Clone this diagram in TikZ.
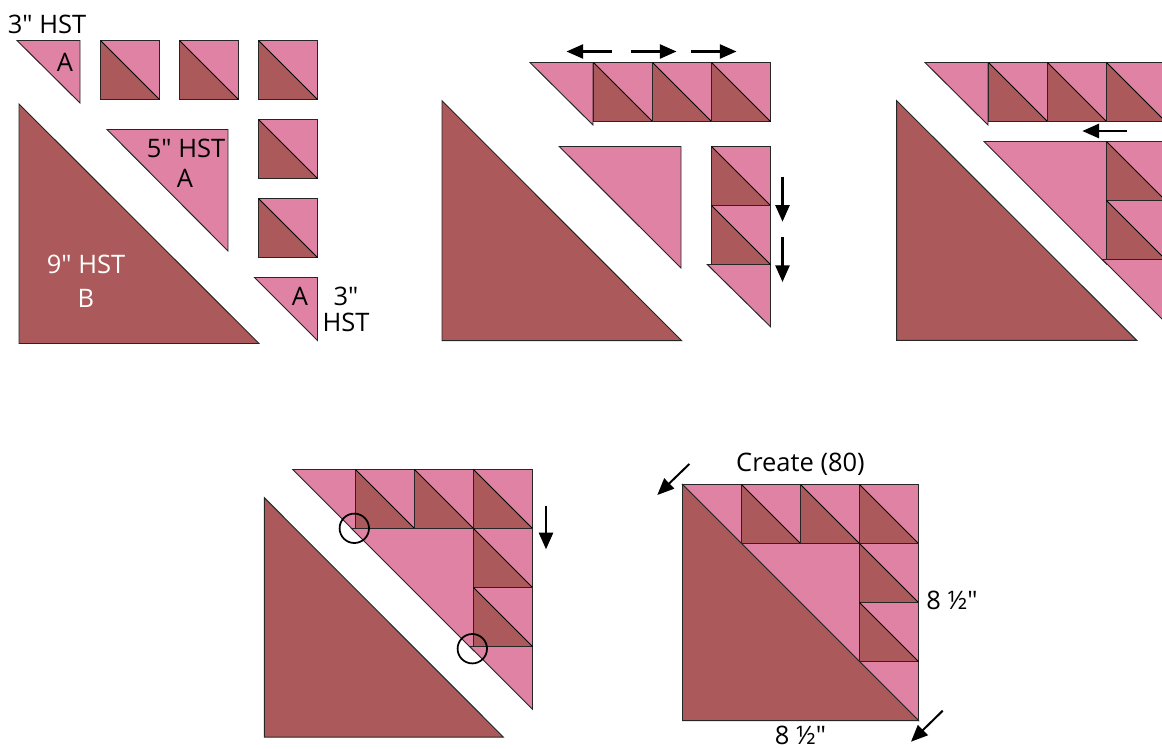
\documentclass[tikz,border=0pt]{standalone}
\usepackage{fontspec}
\setmainfont{Open Sans}[Ligatures=TeXOff]
\usetikzlibrary{arrows.meta}
\definecolor{rosefill}{HTML}{E082A3}
\definecolor{brownfill}{HTML}{AB595A}
\tikzset{
  patch/.style={draw=black!85, line width=0.55pt, line join=miter},
  rosepatch/.style={patch, fill=rosefill},
  brownpatch/.style={patch, fill=brownfill},
  move/.style={-{Triangle[length=9.5pt,width=8pt]}, line width=1.4pt, black},
  label/.style={font=\fontsize{14.5}{16}\selectfont, inner sep=0pt},
  seam/.style={draw=black, line width=1pt}
}
% half square triangle block, top left corner at #1,#2
\newcommand{\hstblock}[2]{
  \fill[rosefill] (#1,#2) rectangle (#1+59,#2+59);
  \fill[brownfill] (#1,#2) -- (#1,#2+59) -- (#1+59,#2+59) -- cycle;
  \draw[patch] (#1,#2) rectangle (#1+59,#2+59);
  \draw[patch, draw=black] (#1,#2) -- (#1+59,#2+59);
}
\begin{document}
\begin{tikzpicture}[x=0.02cm,y=-0.02cm]
\useasboundingbox (0,0) rectangle (1162,748);
\clip (0,0) rectangle (1162,748);

% pieces
\draw[rosepatch] (17,40.5) -- (80,40.5) -- (80,103) -- cycle;
\foreach \px in {100.5,179.5,258.5} {\hstblock{\px}{40.5}}
\foreach \py in {119.5,198.5} {\hstblock{258.5}{\py}}
\draw[brownpatch] (19,104) -- (19,343.5) -- (259,343.5) -- cycle;
\draw[rosepatch] (107,129.5) -- (228,129.5) -- (228,251) -- cycle;
\draw[rosepatch] (254.5,277.5) -- (317.5,277.5) -- (317.5,340.5) -- cycle;
\node (toplabel) [label] at (47,24) {3" HST};
\node (topa) [label] at (65,62) {A};
\node (midlabel) [label] at (186,148.5) {5" HST};
\node (mida) [label] at (185,178.5) {A};
\node (biglabel) [label, text=white] at (86,264.5) {9" HST};
\node (bigb) [label, text=white] at (86,298.5) {B};
\node (lowa) [label] at (300,296.5) {A};
\node (lowsize) [label] at (346,296.5) {3"};
\node (lowlabel) [label] at (346,322.5) {HST};

% rows joined
\draw[brownpatch] (442,100.7) -- (442,340.7) -- (681.7,340.7) -- cycle;
\draw[rosepatch] (530,62.5) -- (593,62.5) -- (593,125) -- cycle;
\foreach \px in {593.5,652.5,711.5} {\hstblock{\px}{62.5}}
\draw[rosepatch] (559.3,146.5) -- (681,146.5) -- (681,268) -- cycle;
\draw[rosepatch] (707.3,264.5) -- (770.5,264.5) -- (770.5,326.7) -- cycle;
\foreach \py in {146.5,205.5} {\hstblock{711.5}{\py}}
\draw[move] (611.7,51.5) -- (566.5,51.5);
\draw[move] (631,51.5) -- (676.5,51.5);
\draw[move] (691,51.5) -- (736.5,51.5);
\draw[move] (782.5,176.7) -- (782.5,221.7);
\draw[move] (782.5,237) -- (782.5,282);

% centre added
\draw[brownpatch] (896.7,100.7) -- (896.7,340.3) -- (1136.7,340.3) -- cycle;
\draw[rosepatch] (925,62.5) -- (988,62.5) -- (988,125) -- cycle;
\foreach \px in {988.5,1047.5,1106.5} {\hstblock{\px}{62.5}}
\draw[rosepatch] (984,141.5) -- (1106.5,141.5) -- (1106.5,264) -- cycle;
\draw[rosepatch] (1106.5,259.5) -- (1169,259.5) -- (1169,326) -- (1102.5,259.5) -- cycle;
\foreach \py in {141.5,200.5} {\hstblock{1106.5}{\py}}
\draw[move] (1126.7,131) -- (1082.3,131);

% corners to match
\draw[brownpatch] (264.3,497.7) -- (264.3,737) -- (503.3,737) -- cycle;
\draw[rosepatch] (292.7,469.5) -- (355.5,469.5) -- (355.5,532.3) -- cycle;
\foreach \px in {355.5,414.5,473.5} {\hstblock{\px}{469.5}}
\draw[rosepatch] (351.5,528.5) -- (473.5,528.5) -- (473.5,650.5) -- cycle;
\draw[rosepatch] (473.5,646.5) -- (532.5,646.5) -- (532.5,709.3) -- (469.7,646.5) -- cycle;
\foreach \py in {528.5,587.5} {\hstblock{473.5}{\py}}
\draw[seam] (354.3,528.3) circle (14.7);
\draw[seam] (472.3,648.7) circle (14.7);
\draw[move] (546,505.7) -- (546,549.3);

% finished block
\fill[rosefill] (682.5,484.5) rectangle (918.5,720.5);
\draw[rosepatch] (682.5,484.5) -- (741.5,484.5) -- (741.5,543.5) -- cycle;
\foreach \px in {741.5,800.5,859.5} {\hstblock{\px}{484.5}}
\draw[rosepatch] (741.5,543.5) -- (859.5,543.5) -- (859.5,661.5) -- cycle;
\draw[rosepatch] (859.5,661.5) -- (918.5,661.5) -- (918.5,720.5) -- cycle;
\foreach \py in {543.5,602.5} {\hstblock{859.5}{\py}}
\draw[brownpatch] (682.5,484.5) -- (682.5,720.5) -- (918.5,720.5) -- cycle;
\draw[move, line width=1.15pt] (689.3,464) -- (657.3,495);
\draw[move, line width=1.15pt] (942.7,710.7) -- (911,741.7);
\node (createlabel) [label] at (800.5,464) {Create (80)};
\node (sidesize) [label] at (952,600.5) {8 ½"};
\node (basesize) [label] at (800.5,735) {8 ½"};
\end{tikzpicture}
\end{document}
